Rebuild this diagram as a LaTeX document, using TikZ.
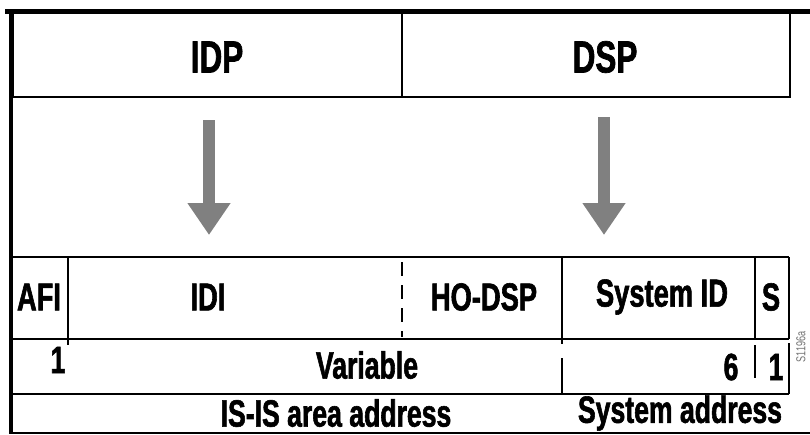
\documentclass[tikz,border=0pt]{standalone}
\usepackage{fontspec}
\setmainfont{Liberation Sans}[FakeStretch=0.7, BoldFeatures={FakeBold=1.5}]
\usetikzlibrary{arrows.meta}
\begin{document}
\begin{tikzpicture}[x = 1pt, y = -1pt, line width = 1.2pt,
		title/.style = {inner sep = 0pt, font = \bfseries\fontsize{45}{47}\selectfont},
		field/.style = {inner sep = 0pt, font = \bfseries\fontsize{39}{41}\selectfont},
		size/.style = {inner sep = 0pt, font = \bfseries\fontsize{38}{40}\selectfont},
		bigarrow/.style = {line width = 12pt, draw = black!50, line cap = butt,
			-{Triangle[width = 41pt, length = 32pt]}}]
		\useasboundingbox (0, 0) rectangle (810, 434);
		% frame and upper box
		\draw [line width = 5pt] (5, 11) -- (810, 11);
		\draw [line width = 4pt] (11, 9) -- (11, 434);
		\draw (13, 13) rectangle (790, 97);
		\draw (402, 13) -- (402, 97);
		\node [title] (idp) at (217, 57) {IDP};
		\node [title] (dsp) at (605, 57) {DSP};
		% arrows
		\foreach \x/\top/\name in {209/120/idp, 604/117/dsp}{
			\coordinate (\name-from) at (\x, \top);
			\coordinate (\name-to) at (\x, 235);
			\draw [bigarrow] (\name-from) -- (\name-to);}
		% lower box
		\foreach \y in {257, 339, 394}{
			\draw (12, \y) -- (789, \y);}
		\draw (12, 433) -- (810, 433);
		\foreach \x in {68, 562, 755, 789}{
			\draw (\x, 257) -- (\x, 339);}
		\draw (68, 339) -- (68, 345);
		\draw (562, 339) -- (562, 344) (562, 358) -- (562, 394);
		\draw (755, 345) -- (755, 378);
		\draw (789, 343) -- (789, 394);
		\draw [dash pattern = on 14pt off 9pt] (402, 262) -- (402, 337);
		\foreach \x/\txt/\name in {39/AFI/afi, 208/IDI/idi, 484/HO-DSP/hodsp, 662/System ID/sysid, 771/S/sel}{
			\node [field] (\name) at (\x, 297) {\txt};}
		\node [size] (afi-len) at (58, 360) {1};
		\node [size] (var-len) at (367, 365) {Variable};
		\node [size, anchor = east] (sys-len) at (739, 367) {6};
		\node [size] (sel-len) at (776, 367) {1};
		\node [size] (area) at (336, 413) {IS-IS area address};
		\node [size] (sysaddr) at (680, 413) {System address};
		\node [rotate = 90, text = black!55, inner sep = 0pt, font = \fontsize{13}{14}\selectfont] (figid) at (801, 347) {S1196a};
		\end{tikzpicture}
\end{document}
